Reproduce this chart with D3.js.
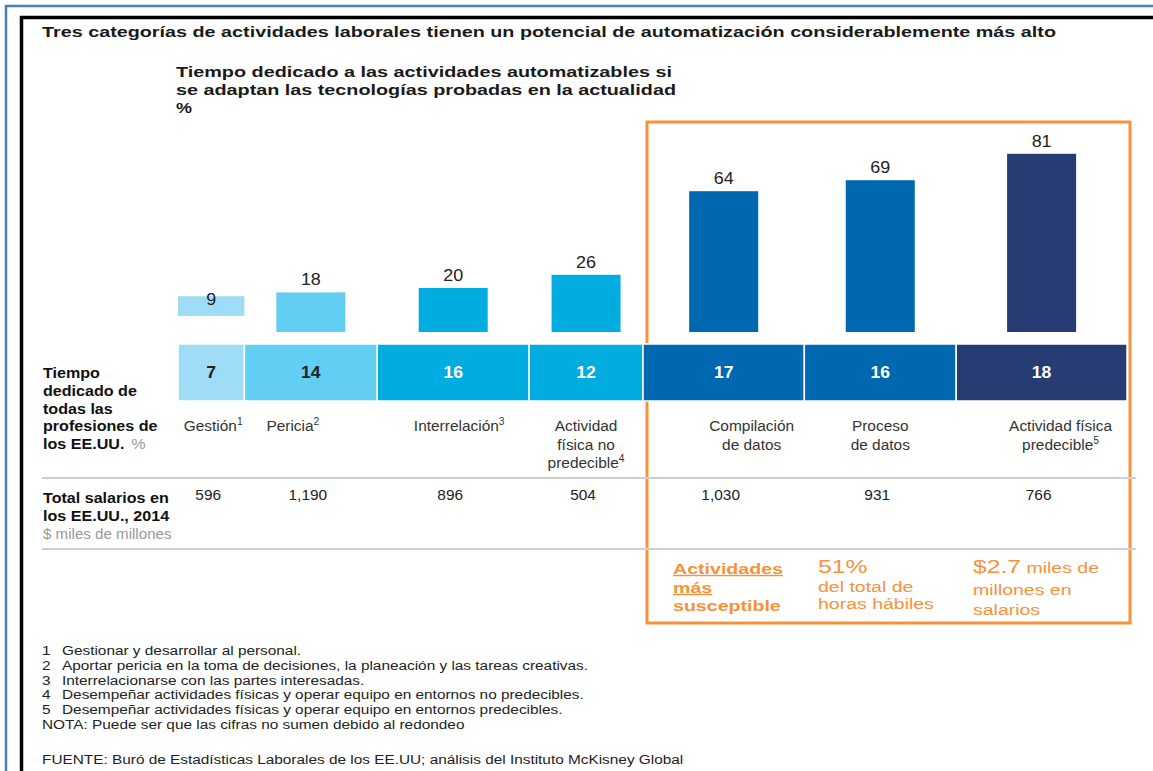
<!DOCTYPE html>
<html>
<head>
<meta charset="utf-8">
<script src="https://cdn.jsdelivr.net/npm/d3@7"></script>
<style>
  body { margin: 0; background: #fff; }
  svg { display: block; font-family: "Liberation Sans", Arial, sans-serif; }
</style>
</head>
<body>
<div id="chart"></div>
<script>
// ---- data ----
var categories = ["Gestión", "Pericia", "Interrelación", "Actividad física no predecible",
                  "Compilación de datos", "Proceso de datos", "Actividad física predecible"];
var labelLines = [["Gestión"], ["Pericia"], ["Interrelación"], ["Actividad", "física no", "predecible"],
                  ["Compilación", "de datos"], ["Proceso", "de datos"], ["Actividad física", "predecible"]];
var noteMarks = ["1", "2", "3", "4", "", "", "5"];
var automatablePct = [9, 18, 20, 26, 64, 69, 81];   // bars
var timeSharePct = [7, 14, 16, 12, 17, 16, 18];     // strip
var wagesBn = [596, 1190, 896, 504, 1030, 931, 766];
var footnotes = [
  ["1", "Gestionar y desarrollar al personal."],
  ["2", "Aportar pericia en la toma de decisiones, la planeación y las tareas creativas."],
  ["3", "Interrelacionarse con las partes interesadas."],
  ["4", "Desempeñar actividades físicas y operar equipo en entornos no predecibles."],
  ["5", "Desempeñar actividades físicas y operar equipo en entornos predecibles."]
];

// ---- layout / style ----
var W = 1153, H = 771;
var palette = ["#9fdcf5", "#63cef4", "#00ace0", "#00ace0", "#0068b0", "#0068b0", "#283c74"];
var darkText = [true, true, false, false, false, false, false];
var labelNudge = [2, -18, 6, 0, 28, 0, 19];
var barLift = [16, 0, 0, 0, 0, 0, 0];   // the first bar floats above the baseline in the original
var orange = "#f7923a";

var svg = d3.select("#chart").append("svg")
    .attr("width", W)
    .attr("height", H);

// helper: text stretched horizontally around its anchor
function txt(g, x, y, s, o) {
    o = o || {};
    var t = g.append("text")
        .attr("transform", "translate(" + x + "," + y + ") scale(" + (o.sx || 1) + ",1)")
        .attr("text-anchor", o.anchor || "start")
        .style("font-size", (o.size || 14) + "px")
        .style("font-weight", o.bold ? "bold" : "normal")
        .style("fill", o.fill || "#222");
    if (s != null) t.text(s);
    return t;
}

// frame lines
svg.append("path").attr("d", "M6," + H + "V6H" + W)
    .attr("fill", "none").attr("stroke", "#4a7ebb").attr("stroke-width", 2.5);
svg.append("path").attr("d", "M21.5," + H + "V17.5H" + W)
    .attr("fill", "none").attr("stroke", "#000").attr("stroke-width", 3.5);

// titles
txt(svg, 42, 37, "Tres categorías de actividades laborales tienen un potencial de automatización considerablemente más alto",
    {size: 15, bold: true, fill: "#1a1a1a"})
    .attr("textLength", 1014).attr("lengthAdjust", "spacingAndGlyphs");
txt(svg, 176, 77, "Tiempo dedicado a las actividades automatizables si", {size: 15, bold: true, fill: "#1a1a1a"})
    .attr("textLength", 496).attr("lengthAdjust", "spacingAndGlyphs");
txt(svg, 176, 95, "se adaptan las tecnologías probadas en la actualidad", {size: 15, bold: true, fill: "#1a1a1a"})
    .attr("textLength", 500).attr("lengthAdjust", "spacingAndGlyphs");
txt(svg, 176, 113, "%", {size: 15, bold: true, fill: "#1a1a1a", sx: 1.2});

// scales
var cum = [0].concat(Array.from(d3.cumsum(timeSharePct)));
var x = d3.scaleLinear().domain([0, d3.sum(timeSharePct)]).range([178, 1127]);
var y = d3.scaleLinear().domain([0, 100]).range([332, 112]);
var segCenter = function(i) { return (x(cum[i]) + x(cum[i + 1])) / 2; };
var segWidth = function(i) { return x(cum[i + 1]) - x(cum[i]); };

// orange highlight box (behind)
svg.append("rect")
    .attr("x", 647).attr("y", 122).attr("width", 483).attr("height", 501)
    .attr("fill", "none").attr("stroke", orange).attr("stroke-width", 3);

// bars
var barW = 69;
var bars = svg.append("g");
bars.selectAll("rect").data(automatablePct).enter().append("rect")
    .attr("x", function(d, i) { return segCenter(i) - Math.min(barW, segWidth(i)) / 2; })
    .attr("width", function(d, i) { return Math.min(barW, segWidth(i)); })
    .attr("y", function(d, i) { return y(d) - barLift[i]; })
    .attr("height", function(d) { return y(0) - y(d); })
    .attr("fill", function(d, i) { return palette[i]; });
automatablePct.forEach(function(d, i) {
    txt(bars, segCenter(i), y(d) - 7, d, {size: 16, anchor: "middle", sx: 1.12});
});

// strip of time shares
var strip = svg.append("g");
strip.selectAll("rect").data(timeSharePct).enter().append("rect")
    .attr("x", function(d, i) { return x(cum[i]); })
    .attr("width", function(d, i) { return segWidth(i); })
    .attr("y", 344).attr("height", 57)
    .attr("fill", function(d, i) { return palette[i]; })
    .attr("stroke", "#fff").attr("stroke-width", 1.5);
timeSharePct.forEach(function(d, i) {
    txt(strip, segCenter(i), 378, d, {size: 16, bold: true, anchor: "middle", sx: 1.1,
        fill: darkText[i] ? "#222" : "#fff"});
});

// category labels
labelLines.forEach(function(lines, i) {
    lines.forEach(function(line, j) {
        var t = txt(svg, segCenter(i) + labelNudge[i], 431 + j * 18.5, null,
                    {size: 15, anchor: "middle", sx: 1.03, fill: "#333"});
        t.append("tspan").text(line);
        if (j === lines.length - 1 && noteMarks[i]) {
            t.append("tspan").attr("dy", -6).style("font-size", "10px").text(noteMarks[i]);
        }
    });
});

// left row headers
var headA = ["Tiempo", "dedicado de", "todas las", "profesiones de", "los EE.UU."];
headA.forEach(function(s, j) {
    var t = txt(svg, 43, 378 + j * 17.8, s, {size: 14, bold: true, fill: "#111", sx: 1.15});
    if (j === headA.length - 1) {
        t.append("tspan").attr("dx", 6).style("font-weight", "normal").style("fill", "#999").text("%");
    }
});
txt(svg, 43, 503, "Total salarios en", {size: 14, bold: true, fill: "#111", sx: 1.15});
txt(svg, 43, 521, "los EE.UU.,  2014", {size: 14, bold: true, fill: "#111", sx: 1.15});
txt(svg, 43, 539, "$ miles de millones", {size: 14, fill: "#999", sx: 1.08});

// separators
[478, 549].forEach(function(yy) {
    svg.append("line").attr("x1", 42).attr("x2", 1136).attr("y1", yy).attr("y2", yy)
        .attr("stroke", "#cfcfcf").attr("stroke-width", 2);
});

// wages
var fmt = d3.format(",");
wagesBn.forEach(function(d, i) {
    txt(svg, segCenter(i) - 3, 500, fmt(d), {size: 15, anchor: "middle", sx: 1.03});
});

// orange call-outs
var oc = svg.append("g");
txt(oc, 673, 574, "Actividades", {size: 14, bold: true, fill: orange, sx: 1.4}).style("text-decoration", "underline");
txt(oc, 673, 593, "más", {size: 14, bold: true, fill: orange, sx: 1.4}).style("text-decoration", "underline");
txt(oc, 673, 611, "susceptible", {size: 14, bold: true, fill: orange, sx: 1.4});
txt(oc, 818, 573, "51%", {size: 19, fill: orange, sx: 1.3});
txt(oc, 818, 592, "del total de", {size: 15, fill: orange, sx: 1.3});
txt(oc, 818, 609, "horas hábiles", {size: 15, fill: orange, sx: 1.3});
var t27 = txt(oc, 973, 573, null, {size: 19, fill: orange, sx: 1.3});
t27.append("tspan").text("$2.7");
t27.append("tspan").style("font-size", "15px").text(" miles de");
txt(oc, 973, 595, "millones en", {size: 15, fill: orange, sx: 1.3});
txt(oc, 973, 615, "salarios", {size: 15, fill: orange, sx: 1.3});

// footnotes
var fn = svg.append("g");
footnotes.forEach(function(f, j) {
    txt(fn, 42, 655 + j * 14.8, f[0], {size: 12.5, sx: 1.23});
    txt(fn, 62, 655 + j * 14.8, f[1], {size: 12.5, sx: 1.23});
});
txt(fn, 42, 729, "NOTA: Puede ser que las cifras no sumen debido al redondeo", {size: 12.5, sx: 1.23});
txt(fn, 42, 764, "FUENTE:  Buró de Estadísticas Laborales de los EE.UU; análisis del Instituto McKisney Global", {size: 12.5, sx: 1.23});
</script>
</body>
</html>
